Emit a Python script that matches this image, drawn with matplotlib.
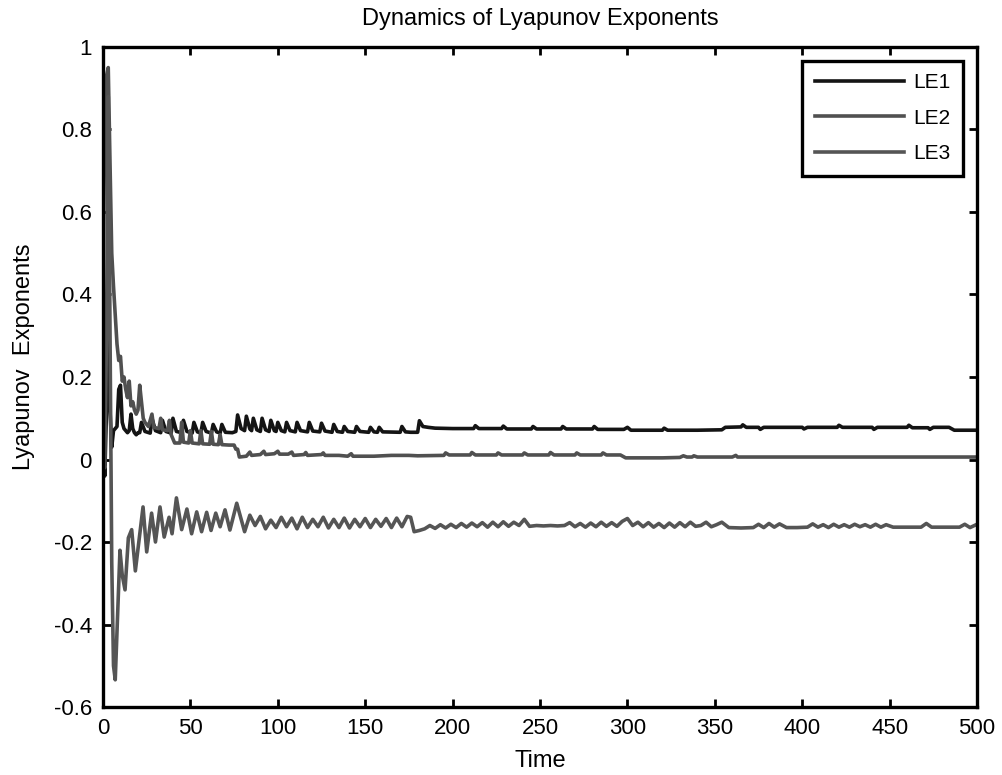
import numpy as np
import matplotlib
matplotlib.use("Agg")
import matplotlib.pyplot as plt
from matplotlib.ticker import FuncFormatter

plt.rcParams['font.family'] = ['Liberation Sans', 'DejaVu Sans']
plt.rcParams['axes.unicode_minus'] = False

# ---- LE1 (black) ----
le1_t = [0, 1, 2, 3, 4, 5, 6, 7, 8, 9,
         10, 11, 12, 13, 14, 15, 16, 17, 18, 19,
         20, 21, 22, 24, 27, 28, 30, 33, 34, 36,
         39, 40, 42, 45, 46, 48, 51, 52, 54, 56,
         57, 59, 62, 63, 65, 67, 68, 70, 74, 76,
         77, 79, 81, 82, 84, 85, 86, 88, 90, 91,
         93, 95, 96, 98, 99, 100, 102, 104, 105, 107,
         110, 111, 113, 117, 118, 120, 124, 125, 127, 131,
         132, 134, 137, 138, 140, 144, 145, 147, 152, 153,
         155, 157, 158, 160, 170, 171, 173, 176, 180, 181,
         183, 186, 190, 200, 212, 213, 215, 228, 229, 231,
         245, 246, 248, 262, 263, 265, 280, 281, 283, 298,
         300, 302, 320, 321, 323, 340, 354, 356, 365, 366,
         368, 375, 376, 378, 400, 401, 403, 420, 421, 423,
         440, 441, 443, 460, 461, 463, 472, 473, 475, 484,
         487, 500]
le1_v = [0.16, -0.04, 0.12, 0.35, 0.12, 0.03, 0.07, 0.075, 0.08, 0.17,
         0.18, 0.09, 0.075, 0.07, 0.065, 0.07, 0.11, 0.075, 0.065, 0.06,
         0.065, 0.065, 0.09, 0.068, 0.064, 0.10, 0.07, 0.065, 0.095, 0.068,
         0.064, 0.10, 0.068, 0.065, 0.095, 0.068, 0.064, 0.09, 0.067, 0.064,
         0.09, 0.068, 0.064, 0.085, 0.067, 0.064, 0.085, 0.066, 0.065, 0.068,
         0.108, 0.075, 0.07, 0.105, 0.074, 0.07, 0.10, 0.072, 0.068, 0.10,
         0.072, 0.068, 0.095, 0.07, 0.068, 0.09, 0.07, 0.067, 0.09, 0.07,
         0.067, 0.09, 0.07, 0.067, 0.09, 0.069, 0.067, 0.088, 0.069, 0.066,
         0.085, 0.068, 0.066, 0.08, 0.068, 0.066, 0.08, 0.068, 0.066, 0.078,
         0.067, 0.066, 0.078, 0.067, 0.066, 0.08, 0.067, 0.066, 0.066, 0.094,
         0.08, 0.078, 0.076, 0.075, 0.075, 0.082, 0.075, 0.075, 0.081, 0.074,
         0.074, 0.08, 0.074, 0.074, 0.08, 0.074, 0.074, 0.08, 0.073, 0.073,
         0.078, 0.071, 0.071, 0.076, 0.071, 0.071, 0.072, 0.078, 0.079, 0.084,
         0.078, 0.078, 0.073, 0.078, 0.078, 0.074, 0.078, 0.078, 0.083, 0.078,
         0.078, 0.073, 0.078, 0.078, 0.083, 0.077, 0.077, 0.073, 0.078, 0.078,
         0.071, 0.071]

# ---- LE2 (grey) ----
le2_t = [0, 1, 2, 3, 4, 5, 6, 7, 8, 9,
         10, 11, 12, 13, 14, 15, 16, 17, 18, 19,
         20, 21, 22, 23, 24, 25, 26, 28, 29, 32,
         33, 34, 37, 38, 39, 41, 44, 45, 46, 49,
         50, 51, 55, 56, 57, 61, 62, 63, 66, 67,
         68, 72, 75, 76, 77, 78, 82, 84, 85, 90,
         92, 93, 98, 100, 101, 106, 108, 109, 115, 116,
         117, 125, 126, 127, 135, 140, 142, 143, 155, 165,
         175, 180, 195, 196, 198, 210, 211, 213, 225, 226,
         228, 240, 241, 243, 255, 256, 258, 270, 271, 273,
         285, 286, 288, 296, 299, 320, 330, 332, 334, 337,
         338, 340, 360, 362, 363, 500]
le2_v = [0.45, 0.8, 0.93, 0.95, 0.72, 0.5, 0.42, 0.35, 0.28, 0.24,
         0.25, 0.19, 0.2, 0.17, 0.15, 0.19, 0.13, 0.14, 0.12, 0.11,
         0.12, 0.18, 0.14, 0.10, 0.09, 0.085, 0.08, 0.11, 0.078, 0.075,
         0.10, 0.072, 0.07, 0.095, 0.06, 0.04, 0.04, 0.09, 0.042, 0.04,
         0.07, 0.04, 0.038, 0.07, 0.038, 0.037, 0.068, 0.037, 0.036, 0.06,
         0.036, 0.035, 0.035, 0.025, 0.025, 0.006, 0.008, 0.018, 0.01, 0.012,
         0.02, 0.012, 0.014, 0.02, 0.013, 0.013, 0.018, 0.01, 0.012, 0.017,
         0.01, 0.012, 0.016, 0.01, 0.01, 0.008, 0.014, 0.008, 0.008, 0.01,
         0.01, 0.009, 0.01, 0.016, 0.011, 0.011, 0.017, 0.011, 0.011, 0.016,
         0.011, 0.011, 0.016, 0.011, 0.011, 0.017, 0.011, 0.011, 0.016, 0.011,
         0.011, 0.016, 0.011, 0.011, 0.004, 0.004, 0.005, 0.009, 0.006, 0.006,
         0.009, 0.006, 0.006, 0.01, 0.006, 0.006]

# ---- LE3 (grey) ----
le3_t = [0, 1, 2, 3, 4, 5, 6, 7, 8, 9.7,
         11, 12.6, 14.5, 16.4, 18.5, 20.5, 22.9, 25, 27.8, 30,
         32.6, 35, 37.8, 39.5, 42, 45, 48, 50.7, 53.6, 56.4,
         59.3, 61.8, 64.5, 67, 69.8, 72.6, 76.5, 81, 84, 87,
         90, 93, 96, 99, 102, 105, 108, 111, 114, 117,
         120, 123, 126, 129, 132, 135, 138, 141, 144, 147,
         150, 153, 156, 159, 162, 165, 168, 171, 174, 176,
         178, 181, 184, 187, 190, 193, 196, 199, 202, 205,
         208, 211, 214, 217, 220, 223, 226, 229, 232, 235,
         238, 241, 244, 248, 252, 256, 260, 264, 267, 270,
         273, 276, 279, 282, 285, 288, 291, 294, 297, 300,
         303, 306, 309, 312, 315, 318, 321, 324, 327, 330,
         333, 336, 339, 342, 345, 348, 351, 354, 358, 365,
         372, 375, 378, 381, 384, 387, 391, 397, 403, 406,
         409, 412, 415, 418, 421, 424, 427, 430, 433, 436,
         439, 442, 445, 448, 452, 460, 468, 471, 474, 480,
         486, 490, 493, 496, 500]
le3_v = [0.0, -0.02, 0.3, 0.88, 0.3, -0.25, -0.5, -0.534, -0.42, -0.22,
         -0.28, -0.316, -0.19, -0.17, -0.27, -0.2, -0.115, -0.224, -0.13, -0.2,
         -0.115, -0.188, -0.14, -0.18, -0.093, -0.17, -0.12, -0.18, -0.127, -0.175,
         -0.128, -0.172, -0.13, -0.163, -0.122, -0.171, -0.106, -0.175, -0.135, -0.16,
         -0.138, -0.168, -0.147, -0.165, -0.14, -0.163, -0.142, -0.168, -0.14, -0.165,
         -0.145, -0.163, -0.14, -0.166, -0.145, -0.165, -0.142, -0.166, -0.145, -0.163,
         -0.143, -0.165, -0.145, -0.162, -0.143, -0.165, -0.142, -0.163, -0.138, -0.14,
         -0.175, -0.172, -0.168, -0.16, -0.167, -0.158, -0.166, -0.157, -0.165, -0.155,
         -0.164, -0.154, -0.163, -0.153, -0.164, -0.152, -0.163, -0.151, -0.162, -0.152,
         -0.16, -0.145, -0.162, -0.16, -0.161, -0.16, -0.161, -0.16, -0.153, -0.163,
         -0.155, -0.164, -0.154, -0.163, -0.152, -0.162, -0.153, -0.162, -0.15, -0.143,
         -0.16, -0.152, -0.163, -0.153, -0.164, -0.155, -0.165, -0.154, -0.164, -0.153,
         -0.163, -0.152, -0.162, -0.16, -0.152, -0.163, -0.158, -0.152, -0.165, -0.166,
         -0.165, -0.157, -0.165, -0.155, -0.164, -0.156, -0.165, -0.165, -0.164, -0.156,
         -0.164, -0.158, -0.165, -0.157, -0.164, -0.158, -0.164, -0.157, -0.163, -0.158,
         -0.164, -0.157, -0.164, -0.158, -0.164, -0.164, -0.164, -0.155, -0.164, -0.164,
         -0.164, -0.164, -0.157, -0.165, -0.157]

labels = ['LE1', 'LE2', 'LE3']
colors = ['#141414', '#505050', '#555555']

fig = plt.figure(figsize=(10.03, 7.75), dpi=100)
ax = fig.add_axes([0.1027, 0.0877, 0.8714, 0.8517])

for t, v, lab, c in zip([le1_t, le2_t, le3_t], [le1_v, le2_v, le3_v], labels, colors):
    ax.plot(t, v, color=c, lw=2.6, label=lab)

ax.set_xlim(0, 500)
ax.set_ylim(-0.6, 1)
ax.set_xticks(np.arange(0, 501, 50))
ax.set_yticks(np.arange(-0.6, 1.01, 0.2))
ax.yaxis.set_major_formatter(FuncFormatter(lambda y, p: '%g' % round(y, 2)))
ax.tick_params(direction='in', length=6, width=2, top=True, right=True,
               labelsize=16, pad=8)
for s in ax.spines.values():
    s.set_linewidth(2.4)

ax.set_xlabel('Time', fontsize=17, labelpad=8)
ax.set_ylabel('Lyapunov  Exponents', fontsize=17)
ax.yaxis.set_label_coords(-0.078, 0.53)
ax.set_title('Dynamics of Lyapunov Exponents', fontsize=17, pad=16)

leg = ax.legend(loc='upper right', fontsize=15, handlelength=4.3, fancybox=False,
                framealpha=1, edgecolor='black', borderaxespad=0.65,
                borderpad=0.6, handletextpad=0.45, labelspacing=0.8)
leg.get_frame().set_linewidth(2.4)

fig.savefig('out.png', dpi=100)
